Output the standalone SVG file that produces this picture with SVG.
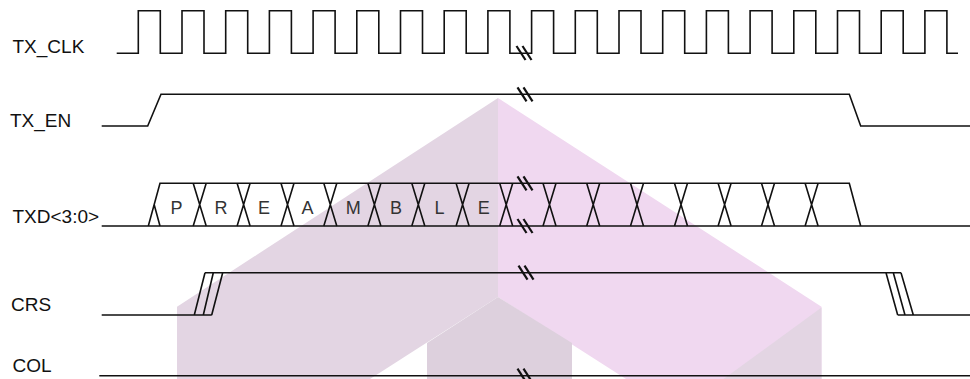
<svg xmlns="http://www.w3.org/2000/svg" xmlns:xlink="http://www.w3.org/1999/xlink" width="970" height="379" viewBox="0 0 970 379">
<style>
.sig{fill:none;stroke:#111;stroke-width:1.6;stroke-linejoin:miter}
.lbl{font-family:"Liberation Sans",Arial,sans-serif;font-size:19px;fill:#111}
.dat{font-family:"Liberation Sans",Arial,sans-serif;font-size:18px;fill:#333;text-anchor:middle}
.brk{fill:none;stroke:#111;stroke-width:2.2}
</style>
<defs>
<g id="brk"><line class="brk" x1="-8.5" y1="-7" x2="0.5" y2="7"/><line class="brk" x1="-2.5" y1="-7" x2="6.5" y2="7"/></g>
<path id="xx" class="sig" d="M-6.5,183.3 L6.5,226 M-6.5,226 L6.5,183.3"/>
</defs>
<rect width="970" height="379" fill="#fff"/>
<g id="watermark">
<polygon points="498,98 177,306.7 177,379 370,379 498,297" fill="#e3d5e3"/>
<polygon points="498,98 821.5,306.7 821.5,379 626,379 498,297" fill="#f0d8f0"/>
<polygon points="498,297 427,343 427,379 572,379 572,343" fill="#ddd0dd"/>
<polygon points="821.5,307.5 821.5,379 723.5,379" fill="#e3d5e3"/>
</g>
<g id="labels">
<text class="lbl" x="12.5" y="52.7">TX_CLK</text>
<text class="lbl" x="10" y="126.7">TX_EN</text>
<text class="lbl" x="12.5" y="222.7">TXD&lt;3:0&gt;</text>
<text class="lbl" x="11" y="311">CRS</text>
<text class="lbl" x="12.5" y="371.7">COL</text>
</g>
<g id="connectors">
<g id="TX_CLK">
<path class="sig" d="M116.7,53.3 H138.3 V10.7 H160.3 V53.3 H182 V10.7 H204 V53.3 H225.7 V10.7 H247.7 V53.3 H269.4 V10.7 H291.4 V53.3 H313.1 V10.7 H335.1 V53.3 H356.8 V10.7 H378.8 V53.3 H400.5 V10.7 H422.5 V53.3 H444.2 V10.7 H466.2 V53.3 H487.9 V10.7 H509.9 V53.3 H531.6 V10.7 H553.6 V53.3 H575.3 V10.7 H597.3 V53.3 H619 V10.7 H641 V53.3 H662.7 V10.7 H684.7 V53.3 H706.4 V10.7 H728.4 V53.3 H750.1 V10.7 H772.1 V53.3 H793.8 V10.7 H815.8 V53.3 H837.5 V10.7 H859.5 V53.3 H881.2 V10.7 H903.2 V53.3 H924.9 V10.7 H946.9 V53.3 H958"/>
<use xlink:href="#brk" x="525" y="53"/>
</g>
<g id="TX_EN">
<path class="sig" d="M101.7,126 H147.7 L161,94.3 H849.3 L860.7,126 H970"/>
<use xlink:href="#brk" x="526" y="94.3"/>
</g>
<g id="TXD">
<path class="sig" d="M101.7,226 H970 M148.3,226 L160,183.3 H849.3 L860.7,226 M154.2,204.7 L160,226"/>
<use xlink:href="#xx" x="199.7"/><use xlink:href="#xx" x="243.6"/><use xlink:href="#xx" x="287.5"/><use xlink:href="#xx" x="330.3"/><use xlink:href="#xx" x="374.4"/><use xlink:href="#xx" x="418.3"/><use xlink:href="#xx" x="462.6"/><use xlink:href="#xx" x="506.2"/><use xlink:href="#xx" x="549.5"/><use xlink:href="#xx" x="593.2"/><use xlink:href="#xx" x="637"/><use xlink:href="#xx" x="681"/><use xlink:href="#xx" x="724.6"/><use xlink:href="#xx" x="768"/><use xlink:href="#xx" x="811.6"/>
<use xlink:href="#brk" x="526" y="183.3"/>
<use xlink:href="#brk" x="526" y="226"/>
<text class="dat" x="176.5" y="214">P</text>
<text class="dat" x="221" y="214">R</text>
<text class="dat" x="264" y="214">E</text>
<text class="dat" x="307.5" y="214">A</text>
<text class="dat" x="353.3" y="214">M</text>
<text class="dat" x="396" y="214">B</text>
<text class="dat" x="439.5" y="214">L</text>
<text class="dat" x="483.8" y="214">E</text>
</g>
<g id="CRS">
<path class="sig" d="M101.7,315 H211.7 M205,272.7 H901 M194.3,315 L205,272.7 M203.3,315 L213.3,272.7 M211.7,315 L222.7,272.7 M886,272.7 L897.7,315 M893.3,272.7 L905,315 M901,272.7 L913.3,315 M897.7,315 H970"/>
<use xlink:href="#brk" x="527" y="272.7"/>
</g>
<g id="COL">
<path class="sig" d="M99.3,375.7 H970"/>
<use xlink:href="#brk" x="526" y="375.7"/>
</g>
</g>
</svg>
